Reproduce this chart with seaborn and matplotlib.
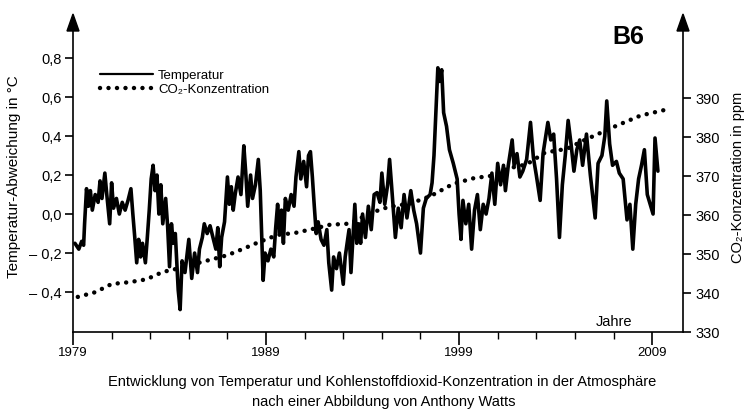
import matplotlib
matplotlib.use("Agg")
import matplotlib.pyplot as plt
from matplotlib.lines import Line2D
from matplotlib.patches import Polygon
import seaborn as sns
import pandas as pd

# ---- data ----
temp_years = [
    1979.1, 1979.3, 1979.45, 1979.55, 1979.6, 1979.7, 1979.8, 1979.9, 1980.0, 1980.15,
    1980.3, 1980.4, 1980.5, 1980.65, 1980.75, 1980.9, 1981.0, 1981.1, 1981.25, 1981.4,
    1981.55, 1981.7, 1981.85, 1982.0, 1982.1, 1982.2, 1982.3, 1982.4, 1982.5, 1982.6,
    1982.75, 1982.85, 1982.95, 1983.05, 1983.15, 1983.25, 1983.35, 1983.45, 1983.55, 1983.65,
    1983.8, 1983.9, 1984.0, 1984.1, 1984.2, 1984.3, 1984.45, 1984.55, 1984.65, 1984.8,
    1985.0, 1985.15, 1985.3, 1985.45, 1985.55, 1985.7, 1985.8, 1985.95, 1986.1, 1986.25,
    1986.4, 1986.5, 1986.6, 1986.7, 1986.85, 1987.0, 1987.1, 1987.2, 1987.3, 1987.4,
    1987.55, 1987.7, 1987.85, 1987.95, 1988.05, 1988.2, 1988.3, 1988.45, 1988.6, 1988.7,
    1988.8, 1988.85, 1988.95, 1989.1, 1989.25, 1989.4, 1989.5, 1989.6, 1989.7, 1989.8,
    1989.9, 1990.0, 1990.15, 1990.3, 1990.45, 1990.55, 1990.7, 1990.8, 1990.95, 1991.1,
    1991.2, 1991.3, 1991.4, 1991.5, 1991.6, 1991.7, 1991.85, 1992.0, 1992.15, 1992.25,
    1992.4, 1992.5, 1992.65, 1992.8, 1993.0, 1993.1, 1993.3, 1993.4, 1993.6, 1993.7,
    1993.8, 1993.9, 1994.0, 1994.15, 1994.3, 1994.45, 1994.6, 1994.75, 1994.9, 1995.0,
    1995.15, 1995.3, 1995.4, 1995.5, 1995.7, 1995.85, 1996.0, 1996.15, 1996.3, 1996.5,
    1996.65, 1996.8, 1997.0, 1997.15, 1997.3, 1997.5, 1997.6, 1997.7, 1997.8, 1997.9,
    1998.0, 1998.1, 1998.2, 1998.35, 1998.5, 1998.7, 1998.9, 1999.0, 1999.1, 1999.2,
    1999.35, 1999.5, 1999.65, 1999.8, 1999.95, 2000.1, 2000.25, 2000.4, 2000.55, 2000.7,
    2000.85, 2001.0, 2001.15, 2001.3, 2001.4, 2001.55, 2001.75, 2001.85, 2002.0, 2002.15,
    2002.3, 2002.5, 2002.7, 2002.85, 2003.0, 2003.2, 2003.35, 2003.6, 2003.75, 2003.9,
    2004.05, 2004.2, 2004.35, 2004.5, 2004.65, 2004.8, 2004.95, 2005.1, 2005.25, 2005.4,
    2005.6, 2005.8, 2006.05, 2006.2, 2006.4, 2006.55, 2006.65, 2006.8, 2006.95, 2007.15,
    2007.3, 2007.5, 2007.7, 2007.85, 2008.0, 2008.15, 2008.3, 2008.45, 2008.6, 2008.75,
    2009.05, 2009.15, 2009.3,
]
temp_values = [
    -0.15, -0.18, -0.14, -0.16, -0.05, 0.13, 0.04, 0.12, 0.02, 0.10,
    0.06, 0.17, 0.08, 0.21, 0.10, -0.05, 0.16, 0.03, 0.08, 0.00,
    0.06, 0.02, 0.07, 0.13, 0.00, -0.12, -0.25, -0.13, -0.22, -0.15,
    -0.25, -0.12, 0.02, 0.18, 0.25, 0.12, 0.20, 0.00, 0.15, -0.05,
    0.08, -0.06, -0.27, -0.05, -0.15, -0.10, -0.39, -0.49, -0.24, -0.30,
    -0.13, -0.33, -0.20, -0.30, -0.18, -0.12, -0.05, -0.10, -0.06, -0.12,
    -0.18, -0.07, -0.27, -0.12, -0.04, 0.19, 0.05, 0.14, 0.02, 0.10,
    0.19, 0.10, 0.35, 0.21, 0.04, 0.20, 0.08, 0.15, 0.28, 0.12,
    -0.18, -0.34, -0.20, -0.24, -0.18, -0.22, -0.07, 0.05, -0.10, 0.02,
    -0.15, 0.08, 0.02, 0.10, 0.04, 0.19, 0.32, 0.18, 0.27, 0.14,
    0.30, 0.32, 0.19, 0.04, -0.10, -0.04, -0.13, -0.16, -0.08, -0.25,
    -0.39, -0.22, -0.28, -0.20, -0.36, -0.22, -0.08, -0.30, 0.05, -0.15,
    -0.05, -0.15, 0.00, -0.12, 0.04, -0.08, 0.10, 0.11, 0.06, 0.21,
    0.05, 0.15, 0.28, 0.15, -0.12, 0.03, -0.07, 0.10, -0.02, 0.12,
    0.02, -0.05, -0.20, 0.03, 0.08, 0.10, 0.16, 0.30, 0.53, 0.75,
    0.68, 0.74, 0.52, 0.45, 0.33, 0.26, 0.18, 0.00, -0.13, 0.07,
    -0.05, 0.05, -0.18, 0.02, 0.10, -0.08, 0.05, 0.00, 0.08, 0.21,
    0.05, 0.26, 0.15, 0.25, 0.12, 0.25, 0.38, 0.25, 0.31, 0.19,
    0.22, 0.28, 0.47, 0.29, 0.20, 0.07, 0.31, 0.47, 0.38, 0.41,
    0.18, -0.12, 0.15, 0.30, 0.48, 0.36, 0.22, 0.33, 0.38, 0.25,
    0.41, 0.20, -0.02, 0.26, 0.30, 0.40, 0.58, 0.36, 0.25, 0.27,
    0.21, 0.18, -0.03, 0.05, -0.18, 0.05, 0.18, 0.25, 0.33, 0.10,
    0.00, 0.39, 0.22,
]

co2_years = [1979.25, 1980.15, 1981.0, 1981.95, 1982.8, 1983.65, 1984.2, 1985.0,
             1985.7, 1986.25, 1987.0, 1987.8, 1988.6, 1989.6, 1990.5, 1991.4,
             1992.3, 1993.35, 1994.4, 1995.3, 1996.5, 1997.5, 1998.7, 1999.8,
             2000.6, 2001.6, 2002.5, 2003.45, 2004.6, 2005.4, 2006.3, 2007.2,
             2008.4, 2009.7]
co2_values = [339.0, 340.2, 342.3, 342.8, 343.5, 345.4, 346.0, 347.0,
              348.0, 348.7, 349.7, 351.3, 353.0, 354.9, 355.4, 356.4,
              357.5, 357.8, 360.5, 362.0, 363.0, 364.8, 368.0, 369.5,
              370.0, 372.0, 373.0, 376.0, 377.0, 379.0, 381.0, 383.0,
              385.5, 387.0]

x_major = [1979, 1989, 1999, 2009]
x_minor = list(range(1981, 2011, 2))
temp_ticks = [-0.4, -0.2, 0.0, 0.2, 0.4, 0.6, 0.8]
temp_ticklabels = ["– 0,4", "– 0,2", "0,0", "0,2", "0,4", "0,6", "0,8"]
co2_ticks = [330, 340, 350, 360, 370, 380, 390]

# ---- style ----
sns.set_style("ticks")
FONT = ["Liberation Sans Narrow", "Liberation Sans", "DejaVu Sans"]
plt.rcParams["font.family"] = FONT
for k in ("text.color", "axes.labelcolor", "xtick.color", "ytick.color", "axes.edgecolor"):
    plt.rcParams[k] = "black"

W, H = 746, 412
fig = plt.figure(figsize=(W / 100, H / 100), dpi=100)
left_px, right_px, top_px, bot_px = 73, 683, 22, 332
ax = fig.add_axes([left_px / W, 1 - bot_px / H, (right_px - left_px) / W, (bot_px - top_px) / H])
ax2 = ax.twinx()

df_t = pd.DataFrame({"Jahr": temp_years, "Temperatur": temp_values})
df_c = pd.DataFrame({"Jahr": co2_years, "CO2": co2_values})

sns.lineplot(data=df_t, x="Jahr", y="Temperatur", ax=ax, color="black",
             linewidth=2.6, estimator=None, sort=False)
sns.lineplot(data=df_c, x="Jahr", y="CO2", ax=ax2, color="black",
             linewidth=3.2, estimator=None, sort=False)
co2_line = ax2.lines[-1]
co2_line.set_dashes((0.01, 1.9))
co2_line.set_dash_capstyle("round")

ax.set_xlim(1979, 2010.6)
ax.set_ylim(-0.605, 0.985)
ax2.set_ylim(330, 409.5)

ax.set_xticks(x_major)
ax.set_xticks(x_minor, minor=True)
ax.set_xticklabels([str(v) for v in x_major])
ax.set_yticks(temp_ticks)
ax.set_yticklabels(temp_ticklabels)
ax2.set_yticks(co2_ticks)
ax2.set_yticklabels([str(v) for v in co2_ticks])

for a in (ax, ax2):
    a.spines["top"].set_visible(False)
    for s in a.spines.values():
        s.set_linewidth(1.2)
        s.set_color("black")
ax.spines["right"].set_visible(False)
ax2.spines["left"].set_visible(False)
ax2.spines["bottom"].set_visible(False)

ax.tick_params(axis="x", which="major", direction="out", length=9, width=1.2,
               labelsize=9.5, pad=2)
ax.tick_params(axis="x", which="minor", direction="out", length=5, width=1.0)
ax.tick_params(axis="y", direction="out", length=6, width=1.2, labelsize=10.5, pad=2)
ax2.tick_params(axis="y", direction="out", length=6, width=1.2, labelsize=10.5, pad=3)

ax.set_xlabel("")
ax.set_ylabel("Temperatur-Abweichung in °C", fontsize=11, labelpad=6)
ax2.set_ylabel("CO₂-Konzentration in ppm", fontsize=10.5, labelpad=8)

# arrows at the top of both vertical axes
for xp in (left_px, right_px):
    fx = xp / W
    tri = Polygon([(fx - 6 / W, 1 - 31 / H), (fx + 6 / W, 1 - 31 / H), (fx, 1 - 14 / H)],
                  closed=True, transform=fig.transFigure, color="black")
    fig.add_artist(tri)

handles = [Line2D([0], [0], color="black", linewidth=1.6),
           Line2D([0], [0], color="black", linewidth=3.2, dashes=(0.01, 1.9),
                  dash_capstyle="round")]
ax.legend(handles, ["Temperatur", "CO₂-Konzentration"], loc="upper left",
          bbox_to_anchor=(0.025, 0.885), frameon=False, fontsize=9.5,
          handlelength=4.0, handletextpad=0.4, labelspacing=0.15)

fig.text(0.842, 0.91, "B6", fontsize=18, fontweight="bold", ha="center", va="center",
         family=["Liberation Sans", "DejaVu Sans"])
fig.text(0.847, 0.218, "Jahre", fontsize=10.5, ha="right", va="center")
fig.text(0.512, 0.074, "Entwicklung von Temperatur und Kohlenstoffdioxid-Konzentration in der Atmosphäre",
         fontsize=10.5, ha="center", va="center")
fig.text(0.515, 0.025, "nach einer Abbildung von Anthony Watts", fontsize=10.5,
         ha="center", va="center")

fig.savefig("out.png", dpi=100)
